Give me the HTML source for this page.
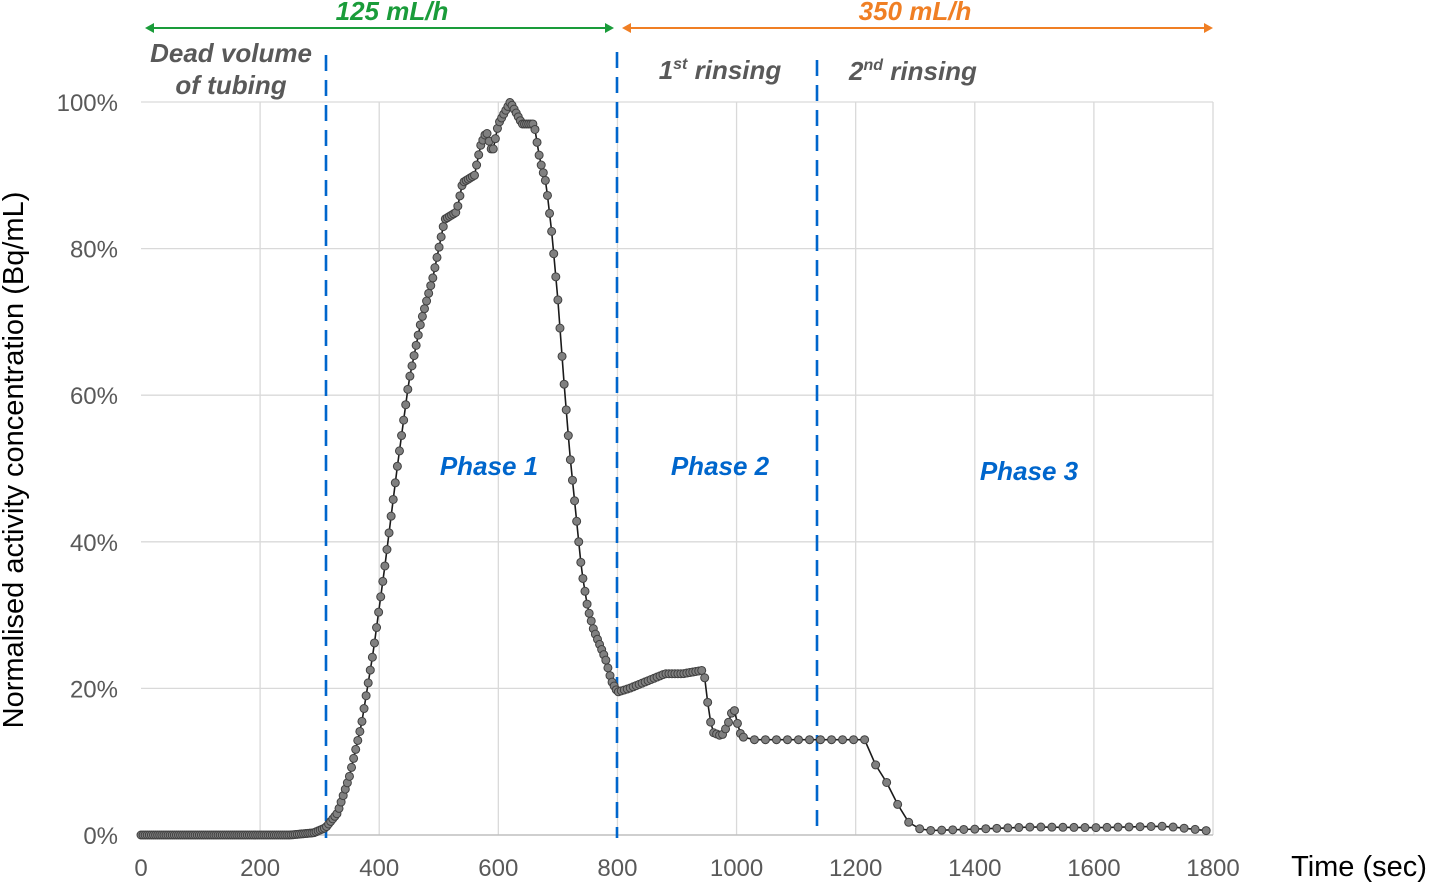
<!DOCTYPE html>
<html><head><meta charset="utf-8"><style>
body{margin:0;background:#fff}
svg text{font-family:"Liberation Sans",Arial,sans-serif}
</style></head><body>
<svg id="s" width="1429" height="883" xmlns="http://www.w3.org/2000/svg">
<g id="grid" stroke="#d9d9d9" stroke-width="1.3"></g>
<g id="lbl" font-size="24" fill="#595959"></g>
<text x="1359" y="876" font-size="29" text-anchor="middle" fill="#000">Time (sec)</text>
<text transform="translate(23,460) rotate(-90)" font-size="29" text-anchor="middle" fill="#000">Normalised activity concentration (Bq/mL)</text>
<g stroke="#0066cc" stroke-width="2.6" stroke-dasharray="16,9">
<line x1="326" y1="55" x2="326" y2="838"/>
<line x1="617" y1="52" x2="617" y2="838"/>
<line x1="817" y1="60" x2="817" y2="830"/>
</g>
<line x1="147" y1="28" x2="612" y2="28" stroke="#1a9c3a" stroke-width="2"/>
<path d="M145 28l9-5v10zM614 28l-9-5v10z" fill="#1a9c3a"/>
<line x1="624" y1="28" x2="1211" y2="28" stroke="#f07f24" stroke-width="2"/>
<path d="M622 28l9-5v10zM1213 28l-9-5v10z" fill="#f07f24"/>
<g font-weight="bold" font-style="italic" font-size="26" text-anchor="middle">
<text x="392" y="20" fill="#1a9c3a">125 mL/h</text>
<text x="915" y="20" fill="#f07f24">350 mL/h</text>
<text x="231" y="62" fill="#595959">Dead volume</text>
<text x="231" y="94" fill="#595959">of tubing</text>
<text x="720" y="79" fill="#595959">1<tspan font-size="16" dy="-10">st</tspan><tspan dy="10"> rinsing</tspan></text>
<text x="913" y="80" fill="#595959">2<tspan font-size="16" dy="-10">nd</tspan><tspan dy="10"> rinsing</tspan></text>
<text x="489" y="475" fill="#0066cc">Phase 1</text>
<text x="720" y="475" fill="#0066cc">Phase 2</text>
<text x="1029" y="480" fill="#0066cc">Phase 3</text>
</g>
<g id="data"></g>
</svg>
<script>
var NS="http://www.w3.org/2000/svg";
function X(t){return 141+t*1072/1800}
function Y(p){return 835-p*7.33}
function el(n,a,p){var e=document.createElementNS(NS,n);for(var k in a)e.setAttribute(k,a[k]);p.appendChild(e);return e}
var g=document.getElementById('grid'),l=document.getElementById('lbl');
for(var t=200;t<=1800;t+=200)el('line',{x1:X(t),y1:102,x2:X(t),y2:835},g);
for(var p=20;p<=100;p+=20)el('line',{x1:141,y1:Y(p),x2:1213,y2:Y(p)},g);
el('line',{x1:141,y1:835,x2:1213,y2:835,stroke:'#bfbfbf','stroke-width':1.5},g);
for(var t=0;t<=1800;t+=200){var e=el('text',{x:X(t),y:876,'text-anchor':'middle'},l);e.textContent=t}
for(var p=0;p<=100;p+=20){var e=el('text',{x:118,y:Y(p)+9,'text-anchor':'end'},l);e.textContent=p+'%'}
var K=[[0,0],[250,0],[290,0.3],[310,1],[330,3],[350,8],[370,15],[390,25],[410,37],[430,50],[450,62],[460,66],[470,70],[480,73],[490,76],[500,80],[510,84],[530,85],[540,89],[560,90],[570,94],[580,96],[590,93],[600,97],[620,100],[640,97],[660,97],[670,92],[680,89],[690,82],[700,73],[710,62],[720,52],[730,44],[740,36],[750,31],[760,28],[770,26],[780,24],[790,21],[800,19.5],[820,20],[850,21],[880,22],[910,22],[945,22.5],[950,19],[955,16],[960,14],[975,13.5],[985,15],[995,17.5],[1005,14],[1015,13],[1200,13],[1215,13],[1230,10],[1250,7.5],[1265,5],[1285,2],[1300,1],[1320,0.6],[1400,0.8],[1500,1.1],[1600,1.0],[1720,1.2],[1800,0.5]];
function f(t){for(var i=1;i<K.length;i++)if(t<=K[i][0]){var a=K[i-1],b=K[i];return a[1]+(b[1]-a[1])*(t-a[0])/(b[0]-a[0])}return 0.5}
var pts=[];for(var t=0;t<=1800;){pts.push([X(t),Y(f(t))]);t+= t<800?3.5:(t<1010?5:18.5)}
var d=document.getElementById('data');
el('polyline',{points:pts.map(function(q){return q.join(',')}).join(' '),fill:'none',stroke:'#1a1a1a','stroke-width':1.6},d);
pts.forEach(function(q){el('circle',{cx:q[0],cy:q[1],r:4,fill:'#808080',stroke:'#404040','stroke-width':1},d)});
</script>
</body></html>
